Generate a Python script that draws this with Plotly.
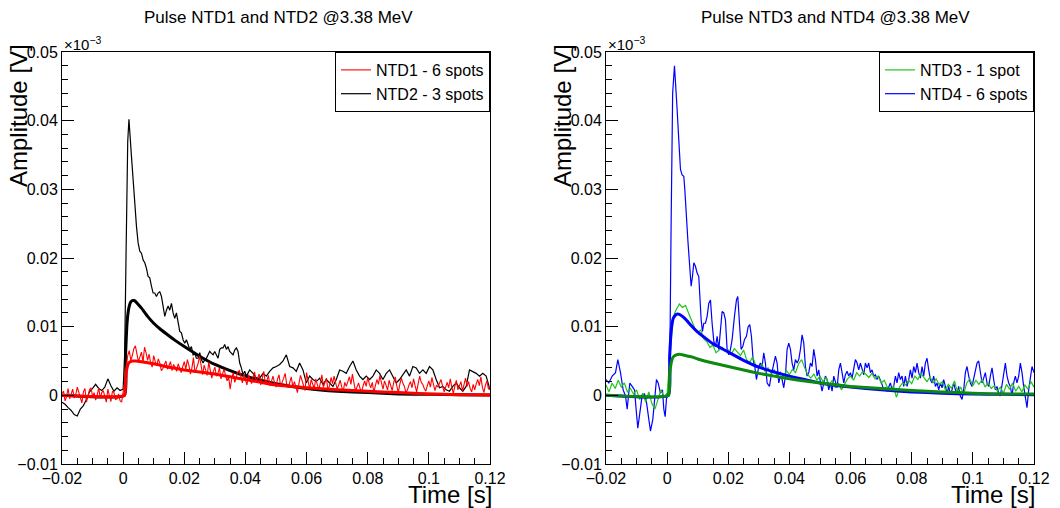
import plotly.graph_objects as go

# ---------------- data (time in ms, amplitude in units of 1e-3 V) ----------------
T_GRID_MS = list(range(-20, 121))                 # 1 ms sampling
T_HALF_MS = [k * 0.5 for k in range(-40, 241)]    # 0.5 ms sampling

NTD1_V = [
    # -20 .. 0 ms
    0.0003, 0.0006, -0.0008, -0.0002, 0.0010, -0.0005, 0.0002, 0.0009, -0.0004, 0.0001,
    0.0012, 0.0003, -0.0006, -0.0011, 0.0005, 0.0010, -0.0010, -0.0001, 0.0008, 0.0011,
    -0.0002, 0.0004, -0.0007, 0.0000, 0.0011, -0.0004, 0.0004, 0.0007, -0.0003, -0.0010,
    0.0009, 0.0001, -0.0009, 0.0006, 0.0004, -0.0006, -0.0005, 0.0002, -0.0008, -0.0010,
    0.0003,
    # 0.5 .. 10 ms
    0.0020,
    0.0042, 0.0058, 0.0065, 0.0051, 0.0058, 0.0068, 0.0072, 0.0060, 0.0049, 0.0056,
    0.0063, 0.0048, 0.0070, 0.0062, 0.0051, 0.0060, 0.0047, 0.0041, 0.0058,
    # 10.5 .. 120 ms
    0.0049, 0.0043, 0.0053, 0.0047, 0.0036, 0.0039, 0.0045, 0.0050, 0.0038, 0.0044,
    0.0049, 0.0036, 0.0045, 0.0041, 0.0035, 0.0046, 0.0040, 0.0033, 0.0042, 0.0049,
    0.0038, 0.0052, 0.0044, 0.0031, 0.0040, 0.0055, 0.0033, 0.0040, 0.0046, 0.0057,
    0.0041, 0.0030, 0.0044, 0.0036, 0.0029, 0.0048, 0.0037, 0.0025, 0.0035, 0.0041,
    0.0028, 0.0032, 0.0040, 0.0024, 0.0031, 0.0038, 0.0029, 0.0021, 0.0027, 0.0009,
    0.0024, 0.0033, 0.0019, 0.0027, 0.0034, 0.0036, 0.0025, 0.0018, 0.0031, 0.0022,
    0.0015, 0.0030, 0.0024, 0.0017, 0.0026, 0.0034, 0.0020, 0.0025, 0.0031, 0.0015,
    0.0027, 0.0035, 0.0018, 0.0021, 0.0029, 0.0014, 0.0020, 0.0028, 0.0019, 0.0012,
    0.0024, 0.0030, 0.0013, 0.0018, 0.0025, 0.0032, 0.0016, 0.0011, 0.0021, 0.0027,
    0.0012, 0.0020, 0.0013, 0.0004, 0.0017, 0.0029, 0.0022, 0.0015, 0.0007, 0.0033,
    0.0019, 0.0009, 0.0023, 0.0016, 0.0010, 0.0024, 0.0017, 0.0008, 0.0018, 0.0030,
    0.0012, 0.0019, 0.0025, 0.0007, 0.0014, 0.0026, 0.0017, 0.0028, 0.0016, 0.0009,
    0.0015, 0.0022, 0.0012, 0.0006, 0.0019, 0.0013, 0.0020, 0.0027, 0.0016, 0.0031,
    0.0018, 0.0007, 0.0012, 0.0018, 0.0010, 0.0005, 0.0014, 0.0021, 0.0013, 0.0026,
    0.0017, 0.0011, 0.0019, 0.0004, 0.0014, 0.0023, 0.0016, 0.0029, 0.0018, 0.0009,
    0.0021, 0.0015, 0.0008, 0.0022, 0.0013, 0.0007, 0.0019, 0.0027, 0.0014, 0.0004,
    0.0016, 0.0025, 0.0018, 0.0013, 0.0004, 0.0008, 0.0015, 0.0020, 0.0011, 0.0024,
    0.0014, 0.0005, 0.0017, 0.0028, 0.0019, 0.0016, 0.0010, 0.0006, 0.0014, 0.0021,
    0.0012, 0.0026, 0.0016, 0.0007, 0.0015, 0.0012, 0.0018, 0.0023, 0.0013, 0.0005,
    0.0012, 0.0019, 0.0011, 0.0024, 0.0012, 0.0003, 0.0013, 0.0022, 0.0008, 0.0014,
    0.0020, 0.0006, 0.0015, 0.0025, 0.0013, 0.0020, 0.0010, 0.0005, 0.0016, 0.0008,
    0.0017, 0.0023, 0.0014, 0.0027, 0.0012, 0.0004, 0.0015, 0.0021, 0.0009, 0.0012,
]

NTD3_V = [
    0.0015, 0.0005, 0.0018, 0.0010, 0.0022, 0.0012, 0.0018, 0.0005, 0.0010, 0.0002,
    0.0008, -0.0006, 0.0003, -0.0010, 0.0005, -0.0012, -0.0020, -0.0005, 0.0008, -0.0002, 0.0003,
    0.0060, 0.0115, 0.0125, 0.0133, 0.0128, 0.0131, 0.0120, 0.0110, 0.0098, 0.0092,
    0.0095, 0.0082, 0.0078, 0.0070, 0.0073, 0.0062, 0.0066, 0.0070, 0.0065, 0.0066,
    0.0060, 0.0068, 0.0063, 0.0058, 0.0066, 0.0052, 0.0048, 0.0056, 0.0043, 0.0040,
    0.0046, 0.0035, 0.0040, 0.0032, 0.0037, 0.0028, 0.0034, 0.0027, 0.0036, 0.0030,
    0.0038, 0.0033, 0.0046, 0.0052, 0.0040, 0.0030, 0.0025, 0.0031, 0.0022, 0.0028,
    0.0020, 0.0026, 0.0015, 0.0022, 0.0011, 0.0018, 0.0008, 0.0016, 0.0024, 0.0028,
    0.0022, 0.0033, 0.0028, 0.0035, 0.0030, 0.0026, 0.0032, 0.0024, 0.0028, 0.0018,
    0.0022, 0.0012, 0.0006, 0.0014, -0.0003, 0.0012, 0.0018, 0.0015, 0.0022, 0.0017,
    0.0028, 0.0023, 0.0032, 0.0025, 0.0020, 0.0027, 0.0018, 0.0024, 0.0015, 0.0020,
    0.0008, 0.0016, 0.0010, 0.0021, 0.0004, 0.0012, 0.0002, 0.0018, 0.0024, 0.0014,
    0.0022, 0.0016, 0.0023, 0.0012, 0.0018, 0.0010, 0.0014, 0.0006, 0.0012, 0.0003,
    0.0016, 0.0009, 0.0018, 0.0006, 0.0013, 0.0005, 0.0015, 0.0009, 0.0020, 0.0012,
]

NTD2_T_MS = [
    -20, -19, -18, -17, -16, -15, -14, -13, -12, -11,
    -10, -9, -8, -7, -6, -5, -4, -3, -2, -1,
    0, 0.5, 1.0, 1.5, 1.9, 2.18, 2.72, 3.27, 3.81, 4.36,
    4.9, 5.45, 5.99, 6.54, 7.08, 7.63, 8.17, 8.71, 9.26, 9.8,
    10.35, 10.89, 11.44, 11.98, 12.53, 13.07, 13.62, 14.16, 14.71, 15.25,
    15.8, 16.34, 16.88, 17.43, 17.97, 18.52, 19.06, 19.61, 20.15, 20.7,
    21.24, 21.79, 22.33, 22.88, 23.42, 23.97, 24.51, 25.05, 25.6, 26.14,
    26.69, 27.23, 27.78, 28.32, 28.87, 29.41, 29.96, 30.5, 31.05, 31.59,
    32.14, 32.68, 33.22, 33.77, 34.31, 34.86, 35.4, 35.95, 36.49, 37.04,
    37.58, 38.13, 38.67, 39.22, 39.76, 40.31, 41.39, 42.48, 43.57, 44.66,
    45.75, 46.84, 47.93, 49.02, 50.11, 51.2, 52.29, 53.38, 54.47, 55.56,
    56.64, 57.73, 58.82, 59.91, 61.0, 62.09, 63.18, 64.27, 65.36, 66.45,
    67.54, 68.63, 69.72, 70.81, 71.9, 72.98, 74.07, 75.16, 76.25, 77.34,
    78.43, 79.52, 80.61, 81.7, 82.79, 83.88, 84.97, 86.06, 87.15, 88.24,
    89.32, 90.41, 91.5, 92.59, 93.68, 94.77, 95.86, 96.95, 98.04, 99.13,
    100.22, 101.31, 102.4, 103.49, 104.58, 105.66, 106.75, 107.84, 108.93, 110.02,
    111.11, 112.2, 113.29, 114.38, 115.47, 116.56, 117.65, 118.74, 120.0,
]
NTD2_V = [
    -0.0010, -0.0013, -0.0018, -0.0022, -0.0028, -0.0030, -0.0020, -0.0015, -0.0006, 0.0005,
    0.0010, 0.0016, 0.0010, 0.0007, 0.0012, 0.0024, 0.0014, 0.0006, 0.0011, 0.0007,
    0.0009, 0.0060, 0.0220, 0.0370, 0.0402, 0.0387, 0.0348, 0.0314, 0.0275, 0.0246,
    0.0222, 0.0210, 0.0207, 0.0197, 0.0193, 0.0185, 0.0173, 0.0171, 0.0159, 0.0149,
    0.0149, 0.0144, 0.0149, 0.0151, 0.0144, 0.0130, 0.0115, 0.0124, 0.0130, 0.0124,
    0.0134, 0.0120, 0.0112, 0.0120, 0.0105, 0.0093, 0.0091, 0.0081, 0.0076, 0.0081,
    0.0074, 0.0067, 0.0071, 0.0059, 0.0061, 0.0054, 0.0054, 0.0062, 0.0052, 0.0047,
    0.0052, 0.0054, 0.0059, 0.0064, 0.0061, 0.0059, 0.0064, 0.0059, 0.0054, 0.0067,
    0.0069, 0.0069, 0.0074, 0.0067, 0.0071, 0.0064, 0.0061, 0.0059, 0.0066, 0.0069,
    0.0064, 0.0047, 0.0040, 0.0030, 0.0035, 0.0028, 0.0037, 0.0032, 0.0025, 0.0025,
    0.0032, 0.0028, 0.0035, 0.0040, 0.0042, 0.0045, 0.0050, 0.0059, 0.0042, 0.0040,
    0.0035, 0.0047, 0.0037, 0.0018, 0.0028, 0.0023, 0.0020, 0.0025, 0.0016, 0.0023,
    0.0018, 0.0013, 0.0023, 0.0037, 0.0035, 0.0032, 0.0042, 0.0050, 0.0037, 0.0028,
    0.0023, 0.0028, 0.0023, 0.0028, 0.0037, 0.0032, 0.0023, 0.0032, 0.0037, 0.0028,
    0.0018, 0.0023, 0.0030, 0.0037, 0.0028, 0.0042, 0.0040, 0.0032, 0.0037, 0.0032,
    0.0042, 0.0037, 0.0023, 0.0011, 0.0013, 0.0008, 0.0006, 0.0013, 0.0018, 0.0011,
    0.0006, 0.0013, 0.0037, 0.0035, 0.0032, 0.0028, 0.0032, 0.0028, 0.0008,
]

NTD4_T_MS = [
    -20.0, -19.07, -17.98, -16.89, -16.13, -15.26, -14.39, -13.62, -13.08, -12.21,
    -11.44, -10.68, -10.03, -9.59, -8.94, -8.17, -7.41, -6.76, -5.99, -5.45,
    -4.69, -4.14, -3.49, -2.94, -2.18, -1.53, -1.09, -0.65, -0.22, 0.4,
    0.9, 1.3, 1.8, 2.4, 2.8, 3.27, 3.81, 4.36, 4.9, 5.45,
    5.78, 6.21, 6.76, 7.3, 7.85, 8.28, 8.72, 9.26, 9.81, 10.35,
    10.68, 11.12, 11.55, 11.99, 12.53, 13.08, 13.62, 14.17, 14.71, 15.26,
    15.8, 16.35, 16.89, 17.44, 17.98, 18.53, 19.07, 19.62, 20.16, 20.71,
    21.25, 22.02, 22.67, 23.11, 23.65, 24.2, 24.74, 25.29, 25.94, 26.49,
    27.03, 27.57, 28.12, 28.66, 29.21, 29.97, 30.52, 31.06, 31.61, 32.15,
    32.7, 33.46, 34.0, 34.66, 35.42, 35.97, 36.51, 37.06, 37.6, 38.15,
    38.69, 39.24, 39.78, 40.33, 40.87, 41.42, 41.96, 42.51, 43.05, 43.6,
    44.14, 44.69, 45.23, 45.78, 46.32, 46.87, 47.41, 47.96, 48.5, 49.05,
    49.59, 50.14, 50.68, 51.23, 51.77, 52.32, 52.86, 53.41, 53.95, 54.5,
    55.04, 55.59, 56.13, 56.68, 57.22, 57.77, 58.31, 58.86, 59.4, 59.95,
    60.49, 61.04, 61.58, 62.13, 62.67, 63.22, 63.76, 64.31, 64.85, 65.4,
    65.94, 66.49, 67.03, 67.57, 68.12, 68.66, 69.21, 69.75, 70.3, 70.84,
    71.39, 71.93, 72.48, 73.02, 73.57, 74.11, 74.66, 75.2, 75.75, 76.29,
    76.84, 77.38, 77.93, 78.47, 79.02, 79.56, 80.11, 80.65, 81.2, 81.74,
    82.29, 82.83, 83.38, 83.92, 84.47, 85.01, 85.56, 86.1, 86.65, 87.19,
    87.74, 88.28, 88.83, 89.37, 89.92, 90.46, 91.01, 91.55, 92.1, 92.64,
    93.19, 93.73, 94.28, 94.82, 95.37, 95.91, 96.46, 97.0, 97.55, 98.09,
    98.64, 99.18, 99.73, 100.27, 100.82, 101.36, 101.91, 102.45, 103.0, 103.54,
    104.09, 104.63, 105.18, 105.72, 106.27, 106.81, 107.36, 107.9, 108.45, 108.99,
    109.54, 110.08, 110.63, 111.17, 111.72, 112.26, 112.81, 113.35, 113.9, 114.44,
    114.99, 115.53, 116.08, 116.62, 117.17, 117.71, 118.26, 118.8, 119.35, 120.0,
]
NTD4_V = [
    0.0023, 0.0018, 0.0028, 0.0033, 0.0052, 0.0033, 0.0008, -0.0001, -0.0020, 0.0018,
    0.0013, 0.0008, -0.0026, -0.0048, -0.0026, 0.0000, 0.0002, -0.0010, -0.0035, -0.0052,
    -0.0035, -0.0011, 0.0023, 0.0018, 0.0003, 0.0008, -0.0020, -0.0031, -0.0005, 0.0005,
    0.0060, 0.0250, 0.0440, 0.0480, 0.0455, 0.0416, 0.0372, 0.0329, 0.0321, 0.0319,
    0.0300, 0.0261, 0.0227, 0.0193, 0.0159, 0.0173, 0.0193, 0.0188, 0.0178, 0.0173,
    0.0144, 0.0110, 0.0093, 0.0105, 0.0105, 0.0115, 0.0134, 0.0139, 0.0105, 0.0079,
    0.0071, 0.0086, 0.0067, 0.0096, 0.0122, 0.0120, 0.0110, 0.0067, 0.0059, 0.0067,
    0.0081, 0.0115, 0.0139, 0.0144, 0.0110, 0.0067, 0.0071, 0.0081, 0.0086, 0.0100,
    0.0103, 0.0086, 0.0052, 0.0042, 0.0023, 0.0042, 0.0047, 0.0042, 0.0062, 0.0047,
    0.0018, 0.0013, 0.0028, 0.0042, 0.0057, 0.0047, 0.0018, 0.0028, 0.0023, 0.0011,
    0.0028, 0.0067, 0.0076, 0.0067, 0.0047, 0.0037, 0.0052, 0.0047, 0.0052, 0.0067,
    0.0088, 0.0076, 0.0042, 0.0028, 0.0033, 0.0047, 0.0042, 0.0067, 0.0052, 0.0028,
    0.0037, 0.0018, 0.0006, 0.0018, 0.0028, 0.0023, 0.0008, 0.0018, 0.0006, 0.0028,
    0.0018, 0.0011, 0.0037, 0.0047, 0.0033, 0.0018, 0.0030, 0.0035, 0.0028, 0.0033,
    0.0025, 0.0037, 0.0052, 0.0047, 0.0037, 0.0047, 0.0040, 0.0030, 0.0047, 0.0040,
    0.0047, 0.0033, 0.0037, 0.0028, 0.0030, 0.0023, 0.0028, 0.0023, 0.0016, 0.0008,
    0.0011, 0.0006, 0.0011, 0.0018, 0.0008, 0.0013, 0.0028, 0.0018, 0.0033, 0.0023,
    0.0028, 0.0013, 0.0028, 0.0013, 0.0023, 0.0037, 0.0025, 0.0042, 0.0033, 0.0047,
    0.0033, 0.0025, 0.0042, 0.0028, 0.0047, 0.0054, 0.0037, 0.0023, 0.0018, 0.0028,
    0.0013, 0.0018, 0.0008, 0.0018, 0.0011, 0.0023, 0.0013, 0.0003, 0.0013, 0.0001,
    0.0008, 0.0018, 0.0008, 0.0003, 0.0013, -0.0001, -0.0006, 0.0008, 0.0033, 0.0042,
    0.0028, 0.0018, 0.0013, 0.0023, 0.0037, 0.0047, 0.0050, 0.0033, 0.0018, 0.0025,
    0.0033, 0.0018, 0.0013, 0.0028, 0.0040, 0.0023, 0.0008, 0.0013, 0.0003, -0.0001,
    0.0013, 0.0033, 0.0047, 0.0028, 0.0018, 0.0013, -0.0001, 0.0018, 0.0028, 0.0018,
    0.0028, 0.0047, 0.0033, 0.0013, -0.0001, -0.0018, 0.0008, 0.0028, 0.0042, 0.0033,
]

# fitted pulse shapes
FIT1_T_MS = [-20, 0.4, 0.8, 1.2, 1.6, 2.0, 3.0, 4.0, 6, 10, 15, 20, 25, 30, 35, 40, 45, 50, 55, 60,
             70, 80, 90, 100, 110, 120]
FIT1_V = [0, 0, 0.0025, 0.0038, 0.0045, 0.0048, 0.0050, 0.0050, 0.0049, 0.0046, 0.0041, 0.0037,
          0.0034, 0.0031, 0.0027, 0.0023, 0.0019, 0.0015, 0.0013, 0.0011, 0.0008, 0.0006, 0.0004,
          0.0002, 0.0001, 0.00005]
FIT2_T_MS = [-20, 0.4, 0.8, 1.2, 1.6, 2.0, 2.5, 3.0, 3.5, 4.0, 5, 6, 8, 10, 12, 14, 17, 20, 25, 30,
             35, 40, 45, 50, 60, 70, 80, 90, 100, 110, 120]
FIT2_V = [0, 0, 0.0060, 0.0100, 0.0120, 0.0130, 0.0136, 0.0138, 0.0138, 0.0137, 0.0132, 0.0127,
          0.0115, 0.0105, 0.0097, 0.0090, 0.0080, 0.0071, 0.0057, 0.0045, 0.0036, 0.0028, 0.0022,
          0.0017, 0.0010, 0.0006, 0.0004, 0.0002, 0.00015, 0.0001, 0.00005]
FIT3_T_MS = [-20, 0.4, 0.8, 1.2, 1.6, 2.0, 3.0, 4.0, 5, 6, 8, 10, 15, 20, 25, 30, 35, 40, 45, 50,
             60, 70, 80, 90, 100, 110, 120]
FIT3_V = [0, 0, 0.0028, 0.0044, 0.0052, 0.0056, 0.0059, 0.0060, 0.0059, 0.0058, 0.0056, 0.0053,
          0.0047, 0.0042, 0.0037, 0.0032, 0.0028, 0.0024, 0.0021, 0.0018, 0.0013, 0.0010, 0.0007,
          0.0005, 0.0003, 0.0002, 0.0002]
FIT4_T_MS = [-20, 0.4, 0.8, 1.2, 1.6, 2.0, 3.0, 4.0, 5, 6, 8, 10, 12, 15, 20, 25, 30, 35, 40, 45,
             50, 60, 70, 80, 90, 100, 110, 120]
FIT4_V = [0, 0, 0.0055, 0.0088, 0.0104, 0.0112, 0.0118, 0.0118, 0.0115, 0.0111, 0.0101, 0.0092,
          0.0085, 0.0075, 0.0063, 0.0051, 0.0041, 0.0034, 0.0028, 0.0023, 0.0018, 0.0012, 0.0008,
          0.0005, 0.0003, 0.0002, 0.00015, 0.0001]

assert len(NTD1_V) == len(T_HALF_MS), (len(NTD1_V), len(T_HALF_MS))
assert len(NTD3_V) == len(T_GRID_MS)
assert len(NTD2_T_MS) == len(NTD2_V) and len(NTD4_T_MS) == len(NTD4_V)
assert len(FIT1_T_MS) == len(FIT1_V) and len(FIT2_T_MS) == len(FIT2_V)
assert len(FIT3_T_MS) == len(FIT3_V) and len(FIT4_T_MS) == len(FIT4_V)


def sec(ms):
    return [t / 1000.0 for t in ms]


W, H = 1060, 508
FONT = "Liberation Sans, Arial, Helvetica, sans-serif"
GREEN = "#1fc41f"
DKGREEN = "#0b8a0b"

fig = go.Figure()

# left panel
fig.add_trace(go.Scatter(x=sec(NTD2_T_MS), y=NTD2_V, mode="lines", name="NTD2 - 3 spots",
                         line=dict(color="black", width=1.2), xaxis="x", yaxis="y",
                         legend="legend", legendrank=2))
fig.add_trace(go.Scatter(x=sec(FIT2_T_MS), y=FIT2_V, mode="lines", showlegend=False,
                         line=dict(color="black", width=3, shape="spline", smoothing=0.4),
                         xaxis="x", yaxis="y"))
fig.add_trace(go.Scatter(x=sec(T_HALF_MS), y=NTD1_V, mode="lines", name="NTD1 - 6 spots",
                         line=dict(color="#ff0000", width=1.1), xaxis="x", yaxis="y",
                         legend="legend", legendrank=1))
fig.add_trace(go.Scatter(x=sec(FIT1_T_MS), y=FIT1_V, mode="lines", showlegend=False,
                         line=dict(color="#ff0000", width=3, shape="spline", smoothing=0.4),
                         xaxis="x", yaxis="y"))

# right panel
fig.add_trace(go.Scatter(x=sec(NTD4_T_MS), y=NTD4_V, mode="lines", name="NTD4 - 6 spots",
                         line=dict(color="#0000ff", width=1.2), xaxis="x2", yaxis="y2",
                         legend="legend2", legendrank=2))
fig.add_trace(go.Scatter(x=sec(T_GRID_MS), y=NTD3_V, mode="lines", name="NTD3 - 1 spot",
                         line=dict(color=GREEN, width=1.2), xaxis="x2", yaxis="y2",
                         legend="legend2", legendrank=1))
fig.add_trace(go.Scatter(x=sec(FIT4_T_MS), y=FIT4_V, mode="lines", showlegend=False,
                         line=dict(color="#0000ff", width=3, shape="spline", smoothing=0.4),
                         xaxis="x2", yaxis="y2"))
fig.add_trace(go.Scatter(x=sec(FIT3_T_MS), y=FIT3_V, mode="lines", showlegend=False,
                         line=dict(color=DKGREEN, width=3, shape="spline", smoothing=0.4),
                         xaxis="x2", yaxis="y2"))

tickfont = dict(family=FONT, size=16, color="black")
ydom = [(H - 464) / H, (H - 52) / H]


def xax(dom, anchor):
    return dict(domain=dom, anchor=anchor, range=[-0.02, 0.12], tick0=0, dtick=0.02,
                ticks="inside", ticklen=12, tickcolor="black", tickwidth=1,
                minor=dict(dtick=0.005, ticks="inside", ticklen=6, tickcolor="black", tickwidth=1,
                           showgrid=False),
                showline=True, linecolor="black", linewidth=1, mirror=True, automargin=False,
                showgrid=False, zeroline=False, tickfont=tickfont)


def yax(anchor):
    return dict(domain=ydom, anchor=anchor, range=[-0.01, 0.05], tick0=0, dtick=0.01,
                ticks="inside", ticklen=12, tickcolor="black", tickwidth=1,
                minor=dict(dtick=0.002, ticks="inside", ticklen=6, tickcolor="black", tickwidth=1,
                           showgrid=False),
                showline=True, linecolor="black", linewidth=1, mirror=True, automargin=False,
                showgrid=False, zeroline=False, tickfont=tickfont)


leg_common = dict(bordercolor="black", borderwidth=1, bgcolor="white",
                  font=dict(family=FONT, size=16, color="black"),
                  xanchor="right", yanchor="top", y=(H - 52) / H,
                  tracegroupgap=0, itemwidth=30, traceorder="normal")

annotations = []
for cx, txt in [(278, "Pulse NTD1 and NTD2 @3.38 MeV"), (835, "Pulse NTD3 and NTD4 @3.38 MeV")]:
    annotations.append(dict(x=cx / W, y=(H - 17) / H, xref="paper", yref="paper", text=txt,
                            showarrow=False, xanchor="center", yanchor="middle",
                            font=dict(family=FONT, size=17, color="black")))
for lx in [62, 606]:
    annotations.append(dict(x=lx / W, y=(H - 44) / H, xref="paper", yref="paper",
                            text="×10<sup>−3</sup>", showarrow=False, xanchor="left",
                            yanchor="middle", font=dict(family=FONT, size=15, color="black")))
for ax_x in [18, 562]:
    annotations.append(dict(x=ax_x / W, y=(H - 116) / H, xref="paper", yref="paper",
                            text="Amplitude [V]", textangle=-90, showarrow=False,
                            xanchor="center", yanchor="middle",
                            font=dict(family=FONT, size=24, color="black")))
for rx in [494, 1037]:
    annotations.append(dict(x=rx / W, y=(H - 494) / H, xref="paper", yref="paper",
                            text="Time [s]", showarrow=False, xanchor="right", yanchor="middle",
                            font=dict(family=FONT, size=24, color="black")))

fig.update_layout(
    width=W, height=H,
    margin=dict(l=0, r=0, t=0, b=0, pad=0, autoexpand=False),
    paper_bgcolor="white", plot_bgcolor="white",
    xaxis=xax([62 / W, 490 / W], "y"),
    yaxis=yax("x"),
    xaxis2=xax([606 / W, 1034 / W], "y2"),
    yaxis2=yax("x2"),
    legend=dict(x=490 / W, **leg_common),
    legend2=dict(x=1034 / W, **leg_common),
    annotations=annotations,
    font=dict(family=FONT, color="black"),
)

fig.write_html("out.html", config={"displayModeBar": False},
               post_script="document.body.style.margin='0';document.body.style.overflow='hidden';")
